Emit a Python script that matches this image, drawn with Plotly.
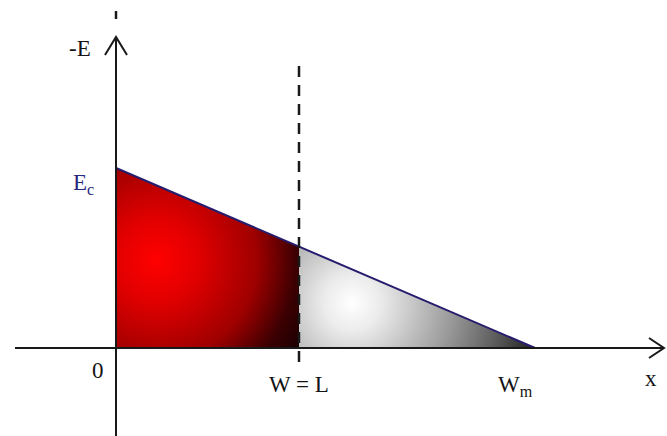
import numpy as np
import plotly.graph_objects as go

# Field profile: -E falls linearly from Ec at x = 0 to zero at x = Wm
E_c = 1.0          # critical field (normalised)
L = 1.0            # layer thickness, W = L
W_m = 2.29         # maximum depletion width
field_x = [0.0, W_m]
field_e = [E_c, 0.0]

tick_labels = {"origin": "0", "L": "W = L", "Wm": "W<sub>m</sub>", "x": "x",
               "E": "-E", "Ec": "E<sub>c</sub>"}

# Axis extents (data units) and pixel scale
X_RANGE = [-116 / 183, 551 / 183]
Y_RANGE = [-88 / 180, 348 / 180]
SX, SY = 183.0, 180.0   # px per data unit


def e_at(x):
    return np.interp(x, field_x, field_e)


def shaded(x0, x1, centre, stops, dmax):
    """Radial shading of the area under the field line between x0 and x1."""
    xs = np.arange(x0, x1, 1 / SX) + 0.5 / SX
    ys = np.arange(0, E_c, 1 / SY) + 0.5 / SY
    X, Y = np.meshgrid(xs, ys)
    d = np.hypot((X - centre[0]) * SX, (Y - centre[1]) * SY) / dmax
    z = np.clip(d, 0, 1)
    z[Y > e_at(X)] = np.nan
    return go.Heatmap(x=xs, y=ys, z=np.round(z, 3), colorscale=stops,
                      zmin=0, zmax=1, showscale=False, hoverinfo="skip",
                      zsmooth=False)


red_stops = [[0.0, "rgb(255,0,0)"], [0.24, "rgb(226,0,0)"], [0.59, "rgb(158,0,0)"],
             [0.82, "rgb(60,0,2)"], [1.0, "rgb(22,0,2)"]]
grey_stops = [[0.0, "rgb(255,255,255)"], [0.15, "rgb(236,236,236)"],
              [0.3, "rgb(205,205,205)"], [0.55, "rgb(152,152,152)"],
              [0.8, "rgb(92,92,92)"], [1.0, "rgb(35,35,35)"]]

fig = go.Figure()
fig.add_trace(shaded(0.0, L, (0.224, 0.489), red_stops, 170))
fig.add_trace(shaded(L, W_m, (1.29, 0.25), grey_stops, 185))

# Field line
fig.add_trace(go.Scatter(x=field_x, y=field_e, mode="lines",
                         line=dict(color="rgb(38,28,110)", width=2),
                         hoverinfo="skip", showlegend=False))

axis_col = "rgb(25,25,25)"
shapes = []
# vertical axis with open arrowhead
y_tip = (348 - 37) / SY
shapes.append(dict(type="line", x0=0, x1=0, y0=Y_RANGE[0], y1=y_tip,
                   line=dict(color=axis_col, width=2)))
shapes.append(dict(type="path",
                   path=f"M {-11 / SX} {y_tip - 18 / SY} L 0 {y_tip} L {11 / SX} {y_tip - 18 / SY}",
                   line=dict(color=axis_col, width=2)))
shapes.append(dict(type="line", x0=0, x1=0, y0=(348 - 19) / SY, y1=(348 - 11) / SY,
                   line=dict(color=axis_col, width=2.5)))
# horizontal axis with open arrowhead
x_tip = (664 - 116) / SX
shapes.append(dict(type="line", x0=(15 - 116) / SX, x1=x_tip, y0=0, y1=0,
                   line=dict(color=axis_col, width=2)))
shapes.append(dict(type="path",
                   path=f"M {x_tip - 15 / SX} {10 / SY} L {x_tip} 0 L {x_tip - 15 / SX} {-10 / SY}",
                   line=dict(color=axis_col, width=2)))
# boundary x = L
shapes.append(dict(type="line", x0=L, x1=L, y0=(348 - 362) / SY, y1=(348 - 63) / SY,
                   line=dict(color=axis_col, width=2.5, dash="11px,8px"), layer="above"))

fig.update_layout(shapes=shapes)

font = dict(family="Liberation Serif, Times New Roman, serif", size=23, color="rgb(20,20,20)")
labels = [
    (tick_labels["E"], -36 / SX, (348 - 48) / SY, font),
    (tick_labels["Ec"], -33 / SX, (348 - 184) / SY, dict(font, color="rgb(40,40,125)")),
    (tick_labels["origin"], -18 / SX, (348 - 370) / SY, font),
    (tick_labels["L"], L, (348 - 384) / SY, font),
    (tick_labels["Wm"], W_m - 20 / SX, (348 - 386) / SY, font),
    (tick_labels["x"], (651 - 116) / SX, (348 - 378) / SY, font),
]
for text, x, y, f in labels:
    fig.add_annotation(x=x, y=y, text=text, showarrow=False, font=f,
                       xanchor="center", yanchor="middle")

fig.update_layout(
    width=667, height=436, margin=dict(l=0, r=0, t=0, b=0),
    paper_bgcolor="white", plot_bgcolor="white", showlegend=False,
    xaxis=dict(range=X_RANGE, visible=False, fixedrange=True),
    yaxis=dict(range=Y_RANGE, visible=False, fixedrange=True),
)

fig.write_html("out.html")
